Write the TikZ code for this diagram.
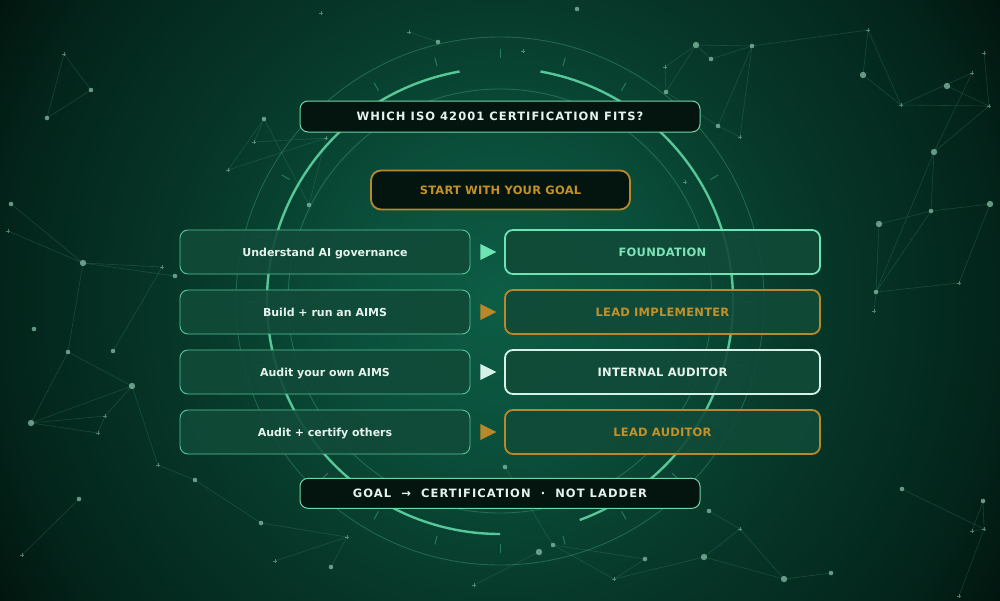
\documentclass[tikz,border=0pt]{standalone}
\usepackage{fontspec}
\setmainfont{DejaVu Sans}
\newfontfamily\spacedfont[LetterSpace=9.2]{DejaVu Sans}
\newfontfamily\lightspaced[LetterSpace=2]{DejaVu Sans}
\usetikzlibrary{calc}
\definecolor{bgA}{HTML}{0D5D45}
\definecolor{bgB}{HTML}{0A4F3B}
\definecolor{bgC}{HTML}{07392A}
\definecolor{bgD}{HTML}{03241A}
\definecolor{bgE}{HTML}{01140E}
\definecolor{mint}{HTML}{6EE3B4}
\definecolor{mintt}{HTML}{7DE3B9}
\definecolor{gold}{HTML}{B8892B}
\definecolor{goldt}{HTML}{C39127}
\definecolor{paleb}{HTML}{D6F2E6}
\definecolor{palet}{HTML}{E6F2EC}
\definecolor{goalb}{HTML}{52C79A}
\definecolor{titleb}{HTML}{6FD6AA}
\definecolor{darkfill}{HTML}{04150F}
\definecolor{boxfill}{HTML}{114A38}
\definecolor{ringc}{HTML}{5FD6A4}
\definecolor{dotc}{HTML}{8EC7AD}
\definecolor{netc}{HTML}{4FA583}
\pgfdeclareradialshading{bgshade}{\pgfpoint{0bp}{0bp}}{color(0bp)=(bgA); color(5.9bp)=(bgB); color(11.7bp)=(bgC); color(19.5bp)=(bgD); color(23bp)=(bgE); color(50bp)=(bgE)}
\begin{document}
\begin{tikzpicture}[x=1pt,y=-1pt,
  ring/.style={draw=ringc, line width=0.9pt, opacity=0.28},
  brightarc/.style={draw=ringc, line width=2.4pt, opacity=0.9},
  tickmark/.style={draw=ringc, line width=0.9pt, opacity=0.4},
  net/.style={draw=netc, line width=0.6pt, opacity=0.25},
  dotmark/.style={fill=dotc, opacity=0.7},
  plusmark/.style={draw=dotc, line width=0.6pt, opacity=0.55},
  titlebox/.style={draw=titleb, line width=1pt, fill=darkfill, rounded corners=8pt, minimum width=400pt, minimum height=31pt, inner sep=0pt, text=palet, font=\spacedfont\bfseries\fontsize{11.5pt}{13pt}\selectfont},
  startbox/.style={draw=gold, line width=1.8pt, fill=darkfill, rounded corners=10pt, minimum width=259pt, minimum height=39pt, inner sep=0pt, text=goldt, font=\lightspaced\bfseries\fontsize{11.5pt}{13pt}\selectfont},
  goalbox/.style={draw=goalb, line width=0.9pt, fill=boxfill, fill opacity=0.9, text opacity=1, rounded corners=8pt, minimum width=290pt, minimum height=44pt, inner sep=0pt, text height=8pt, text depth=0pt, text=palet, font=\bfseries\fontsize{11pt}{13pt}\selectfont},
  certbox/.style={line width=1.8pt, fill=boxfill, fill opacity=0.9, text opacity=1, rounded corners=8pt, minimum width=315pt, minimum height=44pt, inner sep=0pt, font=\lightspaced\bfseries\fontsize{11.5pt}{13pt}\selectfont},
  footbox/.style={draw=titleb, line width=1pt, fill=darkfill, rounded corners=8pt, minimum width=400pt, minimum height=30pt, inner sep=0pt, text=palet, font=\spacedfont\bfseries\fontsize{11.5pt}{13pt}\selectfont}
]
\useasboundingbox (0,0) rectangle (1000,600);
\begin{scope}
  \clip (0,0) rectangle (1000,600);
  \shade[shading=bgshade] (500,300) circle[radius=640pt];
\end{scope}

% network points
\foreach \n/\x/\y in {1/64/54, 2/91/90, 3/47/118, 4/11/204, 5/8/231, 6/83/263, 7/162/267, 8/175/276,
  9/264/119, 10/254/142, 11/228/170, 12/309/205, 13/326/138, 14/577/9, 15/321/13, 16/438/42, 17/409/32,
  18/523/51, 19/696/45, 20/752/46, 21/711/59, 22/665/67, 23/666/92, 24/718/126, 25/740/137,
  26/868/30, 27/863/75, 28/901/105, 29/947/86, 30/972/73, 31/984/53, 32/989/106, 33/934/152,
  34/931/211, 35/879/224, 36/876/292, 37/990/204, 38/959/283,
  39/34/329, 40/68/352, 41/113/351, 42/132/386, 43/31/423, 44/105/416, 45/98/433, 46/79/499,
  47/22/555, 48/158/465, 49/195/480, 50/261/523, 51/331/567, 52/275/561, 53/347/537,
  54/505/467, 55/539/552, 56/553/545, 57/645/559, 58/614/579, 59/474/585,
  60/709/511, 61/740/529, 62/704/557, 63/784/579, 64/831/573, 65/902/489, 66/983/501,
  67/972/531, 68/984/529, 69/959/596, 70/874/311, 71/685/182, 72/143/300}
  \coordinate (p\n) at (\x,\y);

\foreach \a/\b in {1/2, 1/3, 2/3, 4/6, 5/6, 6/8, 6/7, 7/72, 9/10, 9/11, 9/12, 10/13, 11/13, 12/13,
  16/17, 19/20, 19/21, 19/22, 19/23, 22/23, 20/24, 20/25, 24/25, 23/24, 20/26, 21/20,
  26/27, 26/28, 27/28, 28/30, 28/32, 29/32, 31/32, 30/33, 32/33, 33/34, 33/36, 34/35, 35/36, 34/36,
  37/38, 36/38, 34/37, 36/70, 40/42, 40/43, 42/43, 43/44, 43/45, 44/45, 42/44, 42/48, 48/49, 49/50,
  46/47, 40/6, 41/72, 50/53, 52/53, 53/51, 54/56, 55/59, 56/58, 56/57, 57/58, 58/62,
  60/61, 61/62, 62/63, 63/64, 61/63, 65/68, 66/67, 66/68, 67/68, 68/69}
  \draw[net] (p\a) -- (p\b);

\foreach \n in {6,19,27,29,33,35,37,42,43,55,62,63}
  \fill[dotmark] (p\n) circle[radius=3.2pt];
\foreach \n in {2,3,4,8,9,12,14,16,20,21,23,24,34,36,39,40,41,46,49,50,51,54,56,57,60,64,65,66}
  \fill[dotmark] (p\n) circle[radius=2.3pt];
\foreach \n in {1,5,7,10,11,13,15,17,18,22,25,26,28,30,31,32,38,44,45,47,48,52,53,58,59,61,67,68,69,70,71}
  \draw[plusmark] (p\n) +(-2,0) -- +(2,0) (p\n) +(0,-2) -- +(0,2);

% rings
\coordinate (C) at (500,301);
\draw[ring] (C) circle[radius=212pt];
\draw[ring] (C) circle[radius=264pt];
\foreach \a in {0,15,...,345}
  \draw[tickmark] ($(C)+(\a:243pt)$) -- ($(C)+(\a:252pt)$);
\draw[brightarc] ($(C)+(100:233pt)$) arc[start angle=100, end angle=270, radius=233pt];
\draw[brightarc] ($(C)+(290:233pt)$) arc[start angle=290, end angle=440, radius=233pt];

% boxes
\node[titlebox] (title) at (500,116.5) {WHICH ISO 42001 CERTIFICATION FITS?};
\node[startbox] (start) at (500.5,190) {START WITH YOUR GOAL};

\node[goalbox] (g1) at (325,252) {Understand AI governance};
\node[goalbox] (g2) at (325,312) {Build + run an AIMS};
\node[goalbox] (g3) at (325,372) {Audit your own AIMS};
\node[goalbox] (g4) at (325,432) {Audit + certify others};

\node[certbox, draw=mint, text=mintt] (c1) at (662.5,252) {FOUNDATION};
\node[certbox, draw=gold, text=goldt] (c2) at (662.5,312) {LEAD IMPLEMENTER};
\node[certbox, draw=paleb, text=palet] (c3) at (662.5,372) {INTERNAL AUDITOR};
\node[certbox, draw=gold, text=goldt] (c4) at (662.5,432) {LEAD AUDITOR};

\fill[mint] ($(g1.east)+(10,-8)$) -- ($(g1.east)+(10,8)$) -- ($(g1.east)+(26,0)$) -- cycle;
\fill[gold] ($(g2.east)+(10,-8)$) -- ($(g2.east)+(10,8)$) -- ($(g2.east)+(26,0)$) -- cycle;
\fill[paleb] ($(g3.east)+(10,-8)$) -- ($(g3.east)+(10,8)$) -- ($(g3.east)+(26,0)$) -- cycle;
\fill[gold] ($(g4.east)+(10,-8)$) -- ($(g4.east)+(10,8)$) -- ($(g4.east)+(26,0)$) -- cycle;

\node[footbox] (foot) at (500,493.3) {GOAL\ \ →\ \ CERTIFICATION\ \ ·\ \ NOT LADDER};
\end{tikzpicture}
\end{document}
